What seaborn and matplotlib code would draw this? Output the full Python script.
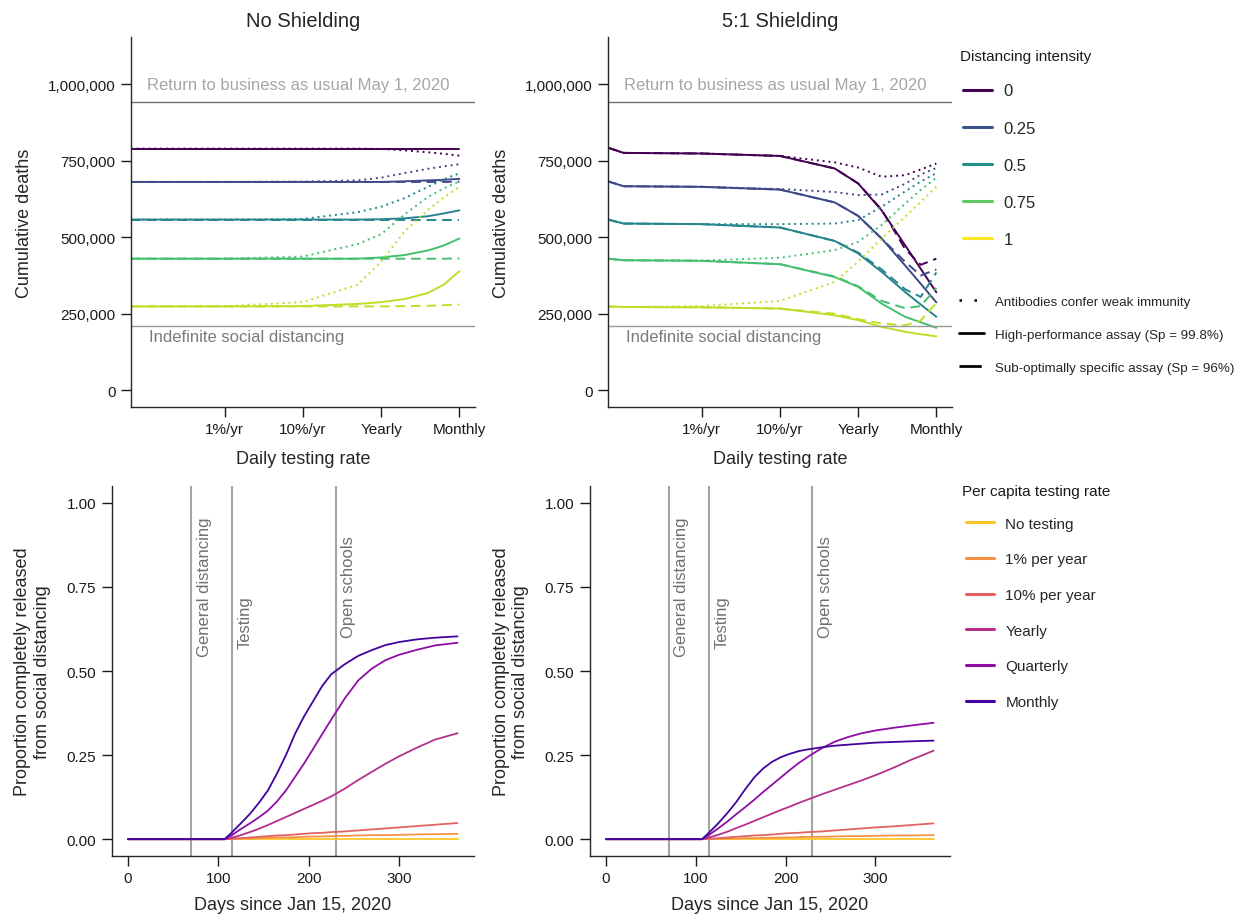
#!/usr/bin/env python3

import matplotlib
matplotlib.use("Agg")
import matplotlib.pyplot as plt
from matplotlib.lines import Line2D
import pandas as pd
import seaborn as sns

# ---------------------------------------------------------------------------
# Top row: cumulative deaths (thousands) vs daily testing rate
# x is log10 of the testing rate in "tests per person per year"
# ---------------------------------------------------------------------------
rate_pos = [-3.2, -3.0, -2.0, -1.0, -0.3, 0.0, 0.3, 0.6, 0.8, 1.0]
rate_ticks = [-2, -1, 0, 1]
rate_labels = ["1%/yr", "10%/yr", "Yearly", "Monthly"]
intensities = ["0", "0.25", "0.5", "0.75", "1"]

# No shielding, one row per distancing intensity
noshield_solid = [
    [790, 790, 790, 790, 790, 790, 790, 790, 790, 790],
    [681, 681, 681, 681, 681, 681, 683, 686, 688, 691],
    [558, 558, 558, 558, 558, 559, 562, 569, 578, 588],
    [430, 430, 430, 430, 430, 434, 442, 457, 473, 496],
    [274, 274, 274, 275, 282, 288, 298, 318, 345, 389],
]
noshield_dashed = [
    [790, 790, 790, 790, 790, 790, 790, 790, 790, 790],
    [681, 681, 681, 681, 681, 681, 681, 681, 681, 682],
    [558, 558, 558, 558, 558, 558, 558, 558, 558, 558],
    [430, 430, 430, 430, 430, 430, 430, 430, 430, 431],
    [274, 274, 274, 274, 274, 274, 275, 276, 278, 280],
]
noshield_dotted = [
    [790, 790, 790, 790, 790, 789, 784, 778, 773, 767],
    [681, 681, 681, 682, 686, 695, 710, 724, 732, 739],
    [558, 558, 558, 560, 582, 600, 628, 665, 690, 709],
    [430, 430, 430, 437, 478, 510, 575, 632, 660, 683],
    [274, 274, 275, 288, 345, 420, 520, 590, 630, 665],
]

# 5:1 shielding
shield_solid = [
    [793, 776, 774, 766, 725, 676, 588, 474, 397, 320],
    [683, 667, 665, 656, 614, 570, 496, 408, 348, 287],
    [558, 545, 543, 532, 488, 447, 387, 321, 280, 240],
    [430, 425, 423, 412, 370, 338, 283, 240, 222, 204],
    [274, 272, 271, 267, 245, 229, 207, 191, 183, 176],
]
shield_dashed = [
    [793, 776, 774, 766, 725, 676, 590, 462, 410, 430],
    [683, 667, 665, 656, 614, 570, 496, 420, 375, 395],
    [558, 545, 543, 532, 488, 450, 395, 330, 305, 385],
    [430, 425, 423, 412, 372, 340, 292, 268, 275, 335],
    [274, 272, 271, 267, 250, 232, 218, 212, 228, 285],
]
shield_dotted = [
    [793, 776, 774, 766, 745, 728, 698, 703, 722, 741],
    [683, 667, 665, 658, 648, 638, 640, 675, 705, 727],
    [558, 545, 543, 543, 545, 556, 600, 650, 682, 710],
    [430, 425, 424, 433, 458, 485, 540, 610, 655, 695],
    [274, 272, 275, 292, 354, 420, 496, 567, 616, 665],
]

bau_deaths = 941000
indefinite_deaths = 209000

# ---------------------------------------------------------------------------
# Bottom row: proportion released from social distancing vs days
# ---------------------------------------------------------------------------
days = [0, 107, 115, 125, 135, 145, 155, 165, 175, 185, 195, 205, 215, 225,
        240, 255, 270, 285, 300, 320, 340, 365]
test_rates = ["No testing", "1% per year", "10% per year", "Yearly",
              "Quarterly", "Monthly"]

noshield_released = [
    [0] * 22,
    [0, 0, 0.001, 0.002, 0.002, 0.003, 0.004, 0.005, 0.005, 0.006, 0.007,
     0.008, 0.008, 0.009, 0.010, 0.011, 0.012, 0.012, 0.013, 0.014, 0.015,
     0.016],
    [0, 0, 0.001, 0.003, 0.005, 0.007, 0.009, 0.011, 0.012, 0.014, 0.016,
     0.018, 0.019, 0.021, 0.023, 0.026, 0.029, 0.032, 0.035, 0.039, 0.043,
     0.048],
    [0, 0, 0.004, 0.012, 0.021, 0.031, 0.042, 0.054, 0.066, 0.078, 0.090,
     0.102, 0.114, 0.127, 0.150, 0.176, 0.200, 0.224, 0.246, 0.272, 0.296,
     0.315],
    [0, 0, 0.012, 0.030, 0.047, 0.065, 0.085, 0.112, 0.145, 0.185, 0.225,
     0.268, 0.312, 0.355, 0.418, 0.472, 0.507, 0.532, 0.548, 0.563, 0.576,
     0.584],
    [0, 0, 0.020, 0.047, 0.075, 0.108, 0.145, 0.195, 0.250, 0.313, 0.365,
     0.410, 0.455, 0.490, 0.520, 0.545, 0.562, 0.577, 0.586, 0.594, 0.599,
     0.603],
]
shield_released = [
    [0] * 22,
    [0, 0, 0.001, 0.001, 0.002, 0.002, 0.003, 0.003, 0.004, 0.004, 0.005,
     0.005, 0.006, 0.007, 0.007, 0.008, 0.009, 0.009, 0.010, 0.011, 0.011,
     0.012],
    [0, 0, 0.001, 0.003, 0.005, 0.007, 0.009, 0.011, 0.012, 0.014, 0.016,
     0.018, 0.019, 0.021, 0.023, 0.026, 0.029, 0.032, 0.035, 0.038, 0.042,
     0.047],
    [0, 0, 0.005, 0.013, 0.022, 0.033, 0.043, 0.054, 0.065, 0.076, 0.087,
     0.097, 0.108, 0.118, 0.133, 0.147, 0.161, 0.175, 0.190, 0.212, 0.236,
     0.263],
    [0, 0, 0.013, 0.032, 0.052, 0.074, 0.095, 0.117, 0.140, 0.162, 0.184,
     0.206, 0.227, 0.245, 0.270, 0.290, 0.304, 0.315, 0.323, 0.331, 0.338,
     0.346],
    [0, 0, 0.020, 0.047, 0.077, 0.110, 0.148, 0.183, 0.210, 0.230, 0.244,
     0.254, 0.262, 0.267, 0.273, 0.278, 0.281, 0.284, 0.287, 0.289, 0.291,
     0.293],
]

policy_days = [70, 115, 230]
policy_labels = ["General distancing", "Testing", "Open schools"]
policy_label_top = [0.96, 0.725, 0.905]


def deaths_frame(rows_by_assay):
    recs = []
    for assay, rows in rows_by_assay.items():
        for lev, vals in zip(intensities, rows):
            for x, v in zip(rate_pos, vals):
                recs.append((assay, lev, x, v * 1000))
    return pd.DataFrame(recs, columns=["assay", "intensity", "rate", "deaths"])


def released_frame(rows):
    recs = []
    for name, vals in zip(test_rates, rows):
        for d, v in zip(days, vals):
            recs.append((name, d, v))
    return pd.DataFrame(recs, columns=["testing", "day", "released"])


sns.set_theme(style="ticks")
plt.rcParams["font.family"] = ["Liberation Sans", "DejaVu Sans"]
plt.rcParams["axes.linewidth"] = 1.0

line_cols = [plt.cm.viridis(v) for v in [0.0, 0.22, 0.45, 0.7, 0.9]]
legend_cols = [plt.cm.viridis(v) for v in [0.0, 0.25, 0.5, 0.75, 1.0]]
plasma_cols = [plt.cm.plasma(v) for v in [0.88, 0.74, 0.6, 0.42, 0.3, 0.1]]
assay_dashes = {"weak": (1, 2), "high": "", "sub": (5, 3)}

fig = plt.figure(figsize=(12.47, 9.2), dpi=100)
W, H = 1247, 920
top_axes = [fig.add_axes([131 / W, 1 - 408 / H, 344 / W, 370 / H]),
            fig.add_axes([608 / W, 1 - 408 / H, 344 / W, 370 / H])]
bot_axes = [fig.add_axes([111.5 / W, 1 - 857 / H, 362.5 / W, 370 / H]),
            fig.add_axes([589.6 / W, 1 - 857 / H, 360.4 / W, 370 / H])]

panels = [
    ("No Shielding", {"weak": noshield_dotted, "high": noshield_solid,
                      "sub": noshield_dashed}),
    ("5:1 Shielding", {"weak": shield_dotted, "high": shield_solid,
                       "sub": shield_dashed}),
]

for ax, (title, rows) in zip(top_axes, panels):
    df = deaths_frame(rows)
    sns.lineplot(data=df, x="rate", y="deaths", hue="intensity",
                 style="assay", palette=dict(zip(intensities, line_cols)),
                 dashes=assay_dashes, linewidth=1.4, legend=False,
                 estimator=None, ax=ax)
    ax.axhline(bau_deaths, color="#6f6f6f", lw=1.0)
    ax.axhline(indefinite_deaths, color="#9a9a9a", lw=1.0)
    ax.text(-3.0, 1000000, "Return to business as usual May 1, 2020",
            color="#a6a6a6", fontsize=12, va="center", ha="left")
    ax.text(-2.97, 175000, "Indefinite social distancing",
            color="#7a7a7a", fontsize=12, va="center", ha="left")
    ax.set_xlim(-3.2, 1.2)
    ax.set_ylim(-55000, 1155000)
    ax.set_xticks(rate_ticks)
    ax.set_xticklabels(rate_labels)
    ax.set_yticks([0, 250000, 500000, 750000, 1000000])
    ax.set_yticklabels(["0", "250,000", "500,000", "750,000", "1,000,000"])
    ax.set_title(title, fontsize=14.5, pad=8)
    ax.set_xlabel("Daily testing rate", fontsize=13, labelpad=10)
    ax.set_ylabel("Cumulative deaths", fontsize=13)
    ax.yaxis.set_label_coords(-0.285, 0.5)

for ax, rows in zip(bot_axes, [noshield_released, shield_released]):
    df = released_frame(rows)
    for d in policy_days:
        ax.axvline(d, color="#a3a3a3", lw=1.5, zorder=1)
    sns.lineplot(data=df, x="day", y="released", hue="testing",
                 palette=dict(zip(test_rates, plasma_cols)), linewidth=1.3,
                 legend=False, estimator=None, ax=ax)
    for d, lab, top in zip(policy_days, policy_labels, policy_label_top):
        ax.text(d + 6, top, lab, rotation=90, color="#707070", fontsize=12,
                ha="left", va="top")
    ax.set_xlim(-18.25, 383.25)
    ax.set_ylim(-0.05, 1.05)
    ax.set_xticks([0, 100, 200, 300])
    ax.set_yticks([0, 0.25, 0.5, 0.75, 1.0])
    ax.set_yticklabels(["0.00", "0.25", "0.50", "0.75", "1.00"])
    ax.set_xlabel("Days since Jan 15, 2020", fontsize=13, labelpad=8)
    ax.set_ylabel("Proportion completely released\nfrom social distancing",
                  fontsize=13)
    ax.yaxis.set_label_coords(-0.167, 0.5)

for ax in top_axes + bot_axes:
    sns.despine(ax=ax)
    ax.tick_params(labelsize=11, length=7, width=1, pad=4,
                   colors="#1a1a1a")

# Legends (titles drawn as plain text so the rows can be placed freely)
fig.text(960 / W, 1 - 57 / H, "Distancing intensity", fontsize=11,
         va="center", ha="left", color="#1a1a1a")
int_handles = [Line2D([], [], color=c, lw=2.2) for c in legend_cols]
fig.legend(int_handles, intensities, loc="upper left",
           bbox_to_anchor=(955 / W, 1 - 76 / H),
           frameon=False, fontsize=12, borderpad=0, labelspacing=1.33,
           handlelength=1.75, handletextpad=0.66)

style_handles = [Line2D([], [], color="black", lw=1.8, ls=(0, (1, 5))),
                 Line2D([], [], color="black", lw=2.0),
                 Line2D([], [], color="black", lw=2.0,
                        ls=(0, (8, 4, 1, 4)))]
style_labels = ["Antibodies confer weak immunity",
                "High-performance assay (Sp = 99.8%)",
                "Sub-optimally specific assay (Sp = 96%)"]
fig.legend(style_handles, style_labels, loc="upper left",
           bbox_to_anchor=(952 / W, 1 - 290 / H), frameon=False,
           fontsize=9.6, borderpad=0, labelspacing=1.55,
           handlelength=1.9, handletextpad=0.8)

fig.text(962 / W, 1 - 492 / H, "Per capita testing rate", fontsize=11,
         va="center", ha="left", color="#1a1a1a")
rate_handles = [Line2D([], [], color=c, lw=2.2) for c in plasma_cols]
fig.legend(rate_handles, test_rates, loc="upper left",
           bbox_to_anchor=(958 / W, 1 - 510 / H),
           frameon=False, fontsize=11, borderpad=0, labelspacing=1.42,
           handlelength=1.85, handletextpad=0.75)

fig.savefig("out.png", dpi=100)
